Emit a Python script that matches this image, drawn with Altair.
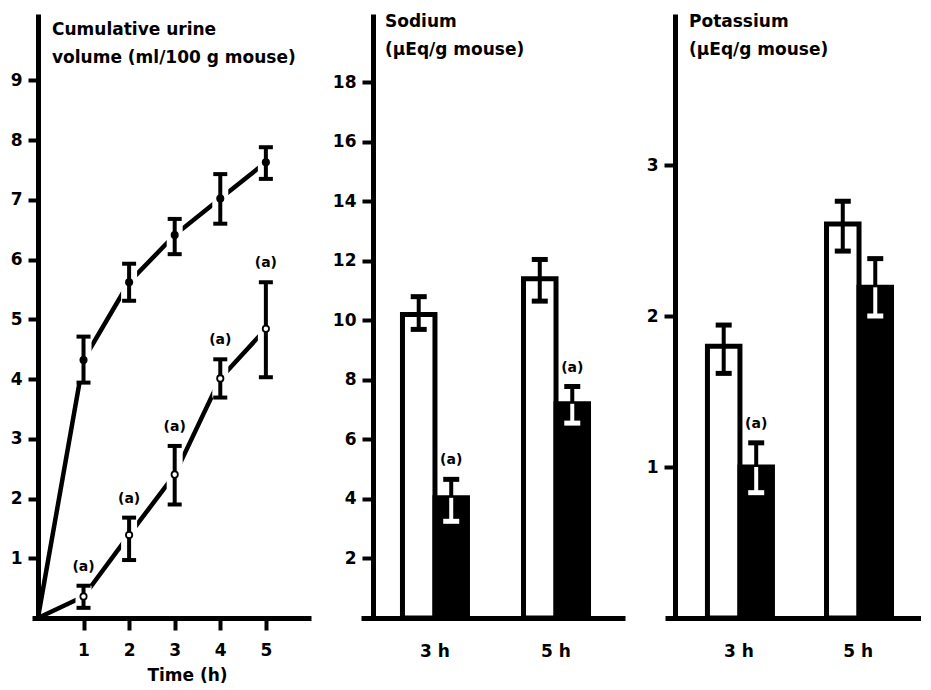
import altair as alt
import pandas as pd

FONT = "DejaVu Sans"

# ---------------- Panel 1: cumulative urine volume ----------------
times = [1, 2, 3, 4, 5]
ctrl_mean = [4.32, 5.62, 6.41, 7.02, 7.63]
ctrl_lo = [3.94, 5.31, 6.09, 6.60, 7.35]
ctrl_hi = [4.71, 5.93, 6.68, 7.43, 7.88]
trt_mean = [0.36, 1.39, 2.40, 4.01, 4.84]
trt_lo = [0.17, 0.97, 1.90, 3.69, 4.03]
trt_hi = [0.54, 1.68, 2.88, 4.33, 5.62]
trt_sig = ["(a)", "(a)", "(a)", "(a)", "(a)"]
origin_t = [0, 0]
origin_v = [0, 0]
y1_ticks = [1, 2, 3, 4, 5, 6, 7, 8, 9]

# ---------------- Panels 2 and 3: bars ----------------
groups = ["3 h", "5 h"]
conds = ["control", "treated"]
na_ctrl = [10.2, 11.4]
na_ctrl_lo = [9.7, 10.65]
na_ctrl_hi = [10.8, 12.05]
na_trt = [4.04, 7.2]
na_trt_lo = [3.25, 6.55]
na_trt_hi = [4.66, 7.78]
na_sig = ["(a)", "(a)"]
na_ticks = [2, 4, 6, 8, 10, 12, 14, 16, 18]

k_ctrl = [1.80, 2.61]
k_ctrl_lo = [1.62, 2.43]
k_ctrl_hi = [1.94, 2.76]
k_trt = [1.00, 2.19]
k_trt_lo = [0.83, 2.00]
k_trt_hi = [1.16, 2.38]
k_sig = ["(a)", ""]
k_ticks = [1, 2, 3]

titles = [
    "Cumulative urine\nvolume (ml/100 g mouse)",
    "Sodium\n(\u03bcEq/g mouse)",
    "Potassium\n(\u03bcEq/g mouse)",
]
x1_title = "Time (h)"

H = 604
LBL = 17
TTL = 17

# ---------------- Panel 1 ----------------
pts = pd.DataFrame({
    "t": times * 2,
    "mean": ctrl_mean + trt_mean,
    "lo": ctrl_lo + trt_lo,
    "hi": ctrl_hi + trt_hi,
    "series": ["control"] * 5 + ["treated"] * 5,
    "sig": [""] * 5 + trt_sig,
})
line_df = pd.concat([
    pd.DataFrame({"t": origin_t, "mean": origin_v, "series": ["control", "treated"]}),
    pts[["t", "mean", "series"]],
], ignore_index=True)

x1_axis = alt.Axis(values=times, format="d", title=x1_title, tickSize=12, labelPadding=12,
                   labelFontSize=LBL, titleFontSize=17, titleX=155, titleY=62,
                   titleAlign="center", titleBaseline="alphabetic")
y1_axis = alt.Axis(values=y1_ticks, title=None, tickSize=10, labelPadding=6,
                   labelFontSize=LBL, offset=-6, labelBaseline="middle")
x1_scale = alt.Scale(domain=[-0.13, 5.99], nice=False, zero=False)
y1_scale = alt.Scale(domain=[0, 10.11], nice=False)


def X1():
    return alt.X("t:Q", scale=x1_scale, axis=x1_axis)


def Y1(f):
    return alt.Y(f"{f}:Q", scale=y1_scale, axis=y1_axis)


lines = alt.Chart(line_df).mark_line(color="black", strokeWidth=4.5, strokeCap="butt").encode(
    x=X1(), y=Y1("mean"), detail="series:N")
halo = alt.Chart(pts).mark_rule(color="white", strokeWidth=16, strokeCap="butt").encode(
    x=X1(), y=Y1("lo"), y2="hi:Q")
stems = alt.Chart(pts).mark_rule(color="black", strokeWidth=4, strokeCap="butt").encode(
    x=X1(), y=Y1("lo"), y2="hi:Q")
cap_lo = alt.Chart(pts).mark_tick(orient="horizontal", color="black", thickness=4, size=14, opacity=1).encode(
    x=X1(), y=Y1("lo"))
cap_hi = alt.Chart(pts).mark_tick(orient="horizontal", color="black", thickness=4, size=14, opacity=1).encode(
    x=X1(), y=Y1("hi"))
filled_pts = alt.Chart(pts).transform_filter(alt.datum.series == "control").mark_circle(
    color="black", size=65, opacity=1).encode(x=X1(), y=Y1("mean"))
open_pts = alt.Chart(pts).transform_filter(alt.datum.series == "treated").mark_circle(
    fill="white", stroke="black", strokeWidth=1.8, size=40, opacity=1).encode(x=X1(), y=Y1("mean"))
sig1 = alt.Chart(pts).transform_filter(alt.datum.series == "treated").mark_text(
    dy=-15, baseline="alphabetic", font=FONT, fontSize=14, fontWeight="bold", color="black").encode(
    x=X1(), y=Y1("hi"), text="sig:N")
title1 = alt.Chart(pd.DataFrame({"label": [titles[0]]})).mark_text(
    align="left", baseline="alphabetic", font=FONT, fontSize=TTL, fontWeight="bold", color="black",
    lineBreak="\n", lineHeight=28).encode(x=alt.value(20), y=alt.value(21), text="label:N")

p1 = alt.layer(lines, halo, stems, cap_lo, cap_hi, filled_pts, open_pts, sig1, title1).properties(
    width=279, height=H)


# ---------------- Bar panels ----------------
def bar_panel(ctrl, ctrl_lo_, ctrl_hi_, trt, trt_lo_, trt_hi_, sig, ymax, yticks, width,
              pi, po, align, yoffset, title):
    df = pd.DataFrame({
        "group": groups * 2,
        "cond": ["control"] * 2 + ["treated"] * 2,
        "value": ctrl + trt,
        "lo": ctrl_lo_ + trt_lo_,
        "hi": ctrl_hi_ + trt_hi_,
        "sig": ["", ""] + sig,
    })
    xs = alt.Scale(domain=groups, paddingInner=pi, paddingOuter=po, align=align)
    xa = alt.Axis(title=None, ticks=False, labelAngle=0, labelPadding=25, labelFontSize=LBL)
    ys = alt.Scale(domain=[0, ymax], nice=False)
    ya = alt.Axis(values=yticks, title=None, tickSize=11, labelPadding=6, labelFontSize=LBL,
                  offset=yoffset, labelBaseline="middle")

    def X():
        return alt.X("group:N", scale=xs, axis=xa)

    def XO():
        return alt.XOffset("cond:N", scale=alt.Scale(domain=conds, paddingInner=0, paddingOuter=0))

    def Y(f):
        return alt.Y(f"{f}:Q", scale=ys, axis=ya)

    bars = alt.Chart(df).mark_bar(stroke="black", strokeWidth=5, strokeJoin="miter").encode(
        x=X(), xOffset=XO(), y=Y("value"),
        fill=alt.Fill("cond:N", scale=alt.Scale(domain=conds, range=["white", "black"]), legend=None))
    stem = alt.Chart(df).mark_rule(color="black", strokeWidth=4, strokeCap="butt").encode(
        x=X(), xOffset=XO(), y=Y("lo"), y2="hi:Q")
    clo = alt.Chart(df).mark_tick(orient="horizontal", color="black", thickness=5, size=16, opacity=1).encode(
        x=X(), xOffset=XO(), y=Y("lo"))
    chi = alt.Chart(df).mark_tick(orient="horizontal", color="black", thickness=5, size=16, opacity=1).encode(
        x=X(), xOffset=XO(), y=Y("hi"))
    wstem = alt.Chart(df).transform_filter(alt.datum.cond == "treated").mark_rule(
        color="white", strokeWidth=4, strokeCap="butt").encode(
        x=X(), xOffset=XO(), y=Y("lo"), y2="value:Q")
    wcap = alt.Chart(df).transform_filter(alt.datum.cond == "treated").mark_tick(
        orient="horizontal", color="white", thickness=5, size=16, opacity=1).encode(
        x=X(), xOffset=XO(), y=Y("lo"))
    txt = alt.Chart(df).transform_filter(alt.datum.cond == "treated").mark_text(
        dy=-15, baseline="alphabetic", font=FONT, fontSize=14, fontWeight="bold", color="black").encode(
        x=X(), xOffset=XO(), y=Y("hi"), text="sig:N")
    ttl = alt.Chart(pd.DataFrame({"label": [title]})).mark_text(
        align="left", baseline="alphabetic", font=FONT, fontSize=TTL, fontWeight="bold", color="black",
        lineBreak="\n", lineHeight=28).encode(x=alt.value(24), y=alt.value(13), text="label:N")
    return alt.layer(bars, stem, clo, chi, wstem, wcap, txt, ttl).properties(width=width, height=H)


p2 = bar_panel(na_ctrl, na_ctrl_lo, na_ctrl_hi, na_trt, na_trt_lo, na_trt_hi, na_sig,
               20.3, na_ticks, 264, 0.463, 0.322, 0.532, -12, titles[1])
p3 = bar_panel(k_ctrl, k_ctrl_lo, k_ctrl_hi, k_trt, k_trt_lo, k_trt_hi, k_sig,
               4.0, k_ticks, 256, 0.47, 0.31, 0.575, -10, titles[2])

chart = alt.hconcat(p1, p2, p3, spacing=21).properties(
    padding={"left": 2, "top": 5, "right": 0, "bottom": 0}
).configure_view(stroke=None).configure_axis(
    domainColor="black", domainWidth=5, domainCap="butt", tickColor="black", tickWidth=4,
    labelFont=FONT, labelFontWeight="bold", labelColor="black",
    titleFont=FONT, titleFontWeight="bold", titleColor="black", grid=False
)

chart.save("out.html", embed_options={"renderer": "svg", "actions": False})
